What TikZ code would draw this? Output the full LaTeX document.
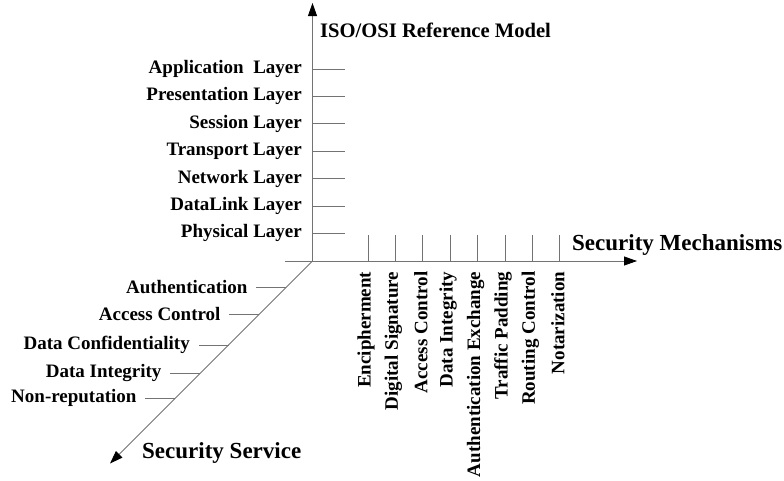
\documentclass[tikz,border=0pt]{standalone}
\usepackage{fontspec}
\setmainfont{Liberation Serif}
\usetikzlibrary{arrows.meta}
\definecolor{axisgray}{RGB}{115,115,115}
\begin{document}
\begin{tikzpicture}[x=1pt,y=-1pt,
  axis/.style={draw=axisgray,line width=0.8pt,-{Triangle[length=13pt,width=9pt,color=black]}},
  tick/.style={draw=axisgray,line width=0.7pt},
  lbl/.style={inner sep=0pt,font=\bfseries\fontsize{19}{22}\selectfont},
  ttl/.style={inner sep=0pt,font=\bfseries\fontsize{20.6}{24}\selectfont},
  axttl/.style={inner sep=0pt,font=\bfseries\fontsize{23}{26}\selectfont}]
\useasboundingbox (0,0) rectangle (784,480);

% axes
\coordinate (O) at (312.5,261);
\coordinate (Ostart) at (285,261);
\coordinate (Ytip) at (312.5,3);
\coordinate (Xtip) at (637,261);
\coordinate (Ztip) at (110,463.5);
\draw[axis] (O) -- (Ytip);
\draw[axis] (Ostart) -- (Xtip);
\draw[axis] (O) -- (Ztip);

% axis titles
\node[ttl,anchor=west] (tiso) at (320,30) {ISO/OSI Reference Model};
\node[axttl,anchor=west] (tmech) at (572,245) {Security Mechanisms};
\node[axttl,anchor=west] (tserv) at (142,453) {Security Service};

% OSI layers on the vertical axis
\foreach \name/\txt [count=\i from 0] in {app/Application\ \ Layer,pre/Presentation Layer,ses/Session Layer,tra/Transport Layer\ ,net/Network Layer,dll/DataLink Layer,phy/Physical Layer}{
  \coordinate (\name-a) at (312.5,69+27.4*\i);
  \coordinate (\name-b) at (344.5,69+27.4*\i);
  \draw[tick] (\name-a) -- (\name-b);
  \node[lbl,anchor=east] (\name) at (302,69+27.4*\i) {\txt};
}

% security mechanisms on the horizontal axis
\foreach \name/\txt [count=\i from 0] in {enc/Encipherment,dsg/Digital Signature,acc/Access Control,din/Data Integrity,aex/Authentication Exchange,tpd/Traffic Padding,rtc/Routing Control,not/Notarization}{
  \coordinate (\name-a) at (368+27.4*\i,261);
  \coordinate (\name-b) at (368+27.4*\i,235);
  \draw[tick] (\name-a) -- (\name-b);
  \node[lbl,anchor=east,rotate=90] (\name) at (366+27.4*\i,271.5) {\txt};
}

% security services on the diagonal axis
\foreach \name/\txt/\yy in {sau/Authentication/287.3,sac/Access Control/314.3,sdc/Data Confidentiality/345,sdi/Data Integrity/373.3,snr/Non-reputation/398.3}{
  \coordinate (\name-a) at ({312.5-(\yy-261)},\yy);
  \coordinate (\name-b) at ({282.5-(\yy-261)},\yy);
  \draw[tick] (\name-a) -- (\name-b);
  \node[lbl,anchor=east] (\name) at ({274-(\yy-261)},\yy) {\txt};
}
\end{tikzpicture}
\end{document}
